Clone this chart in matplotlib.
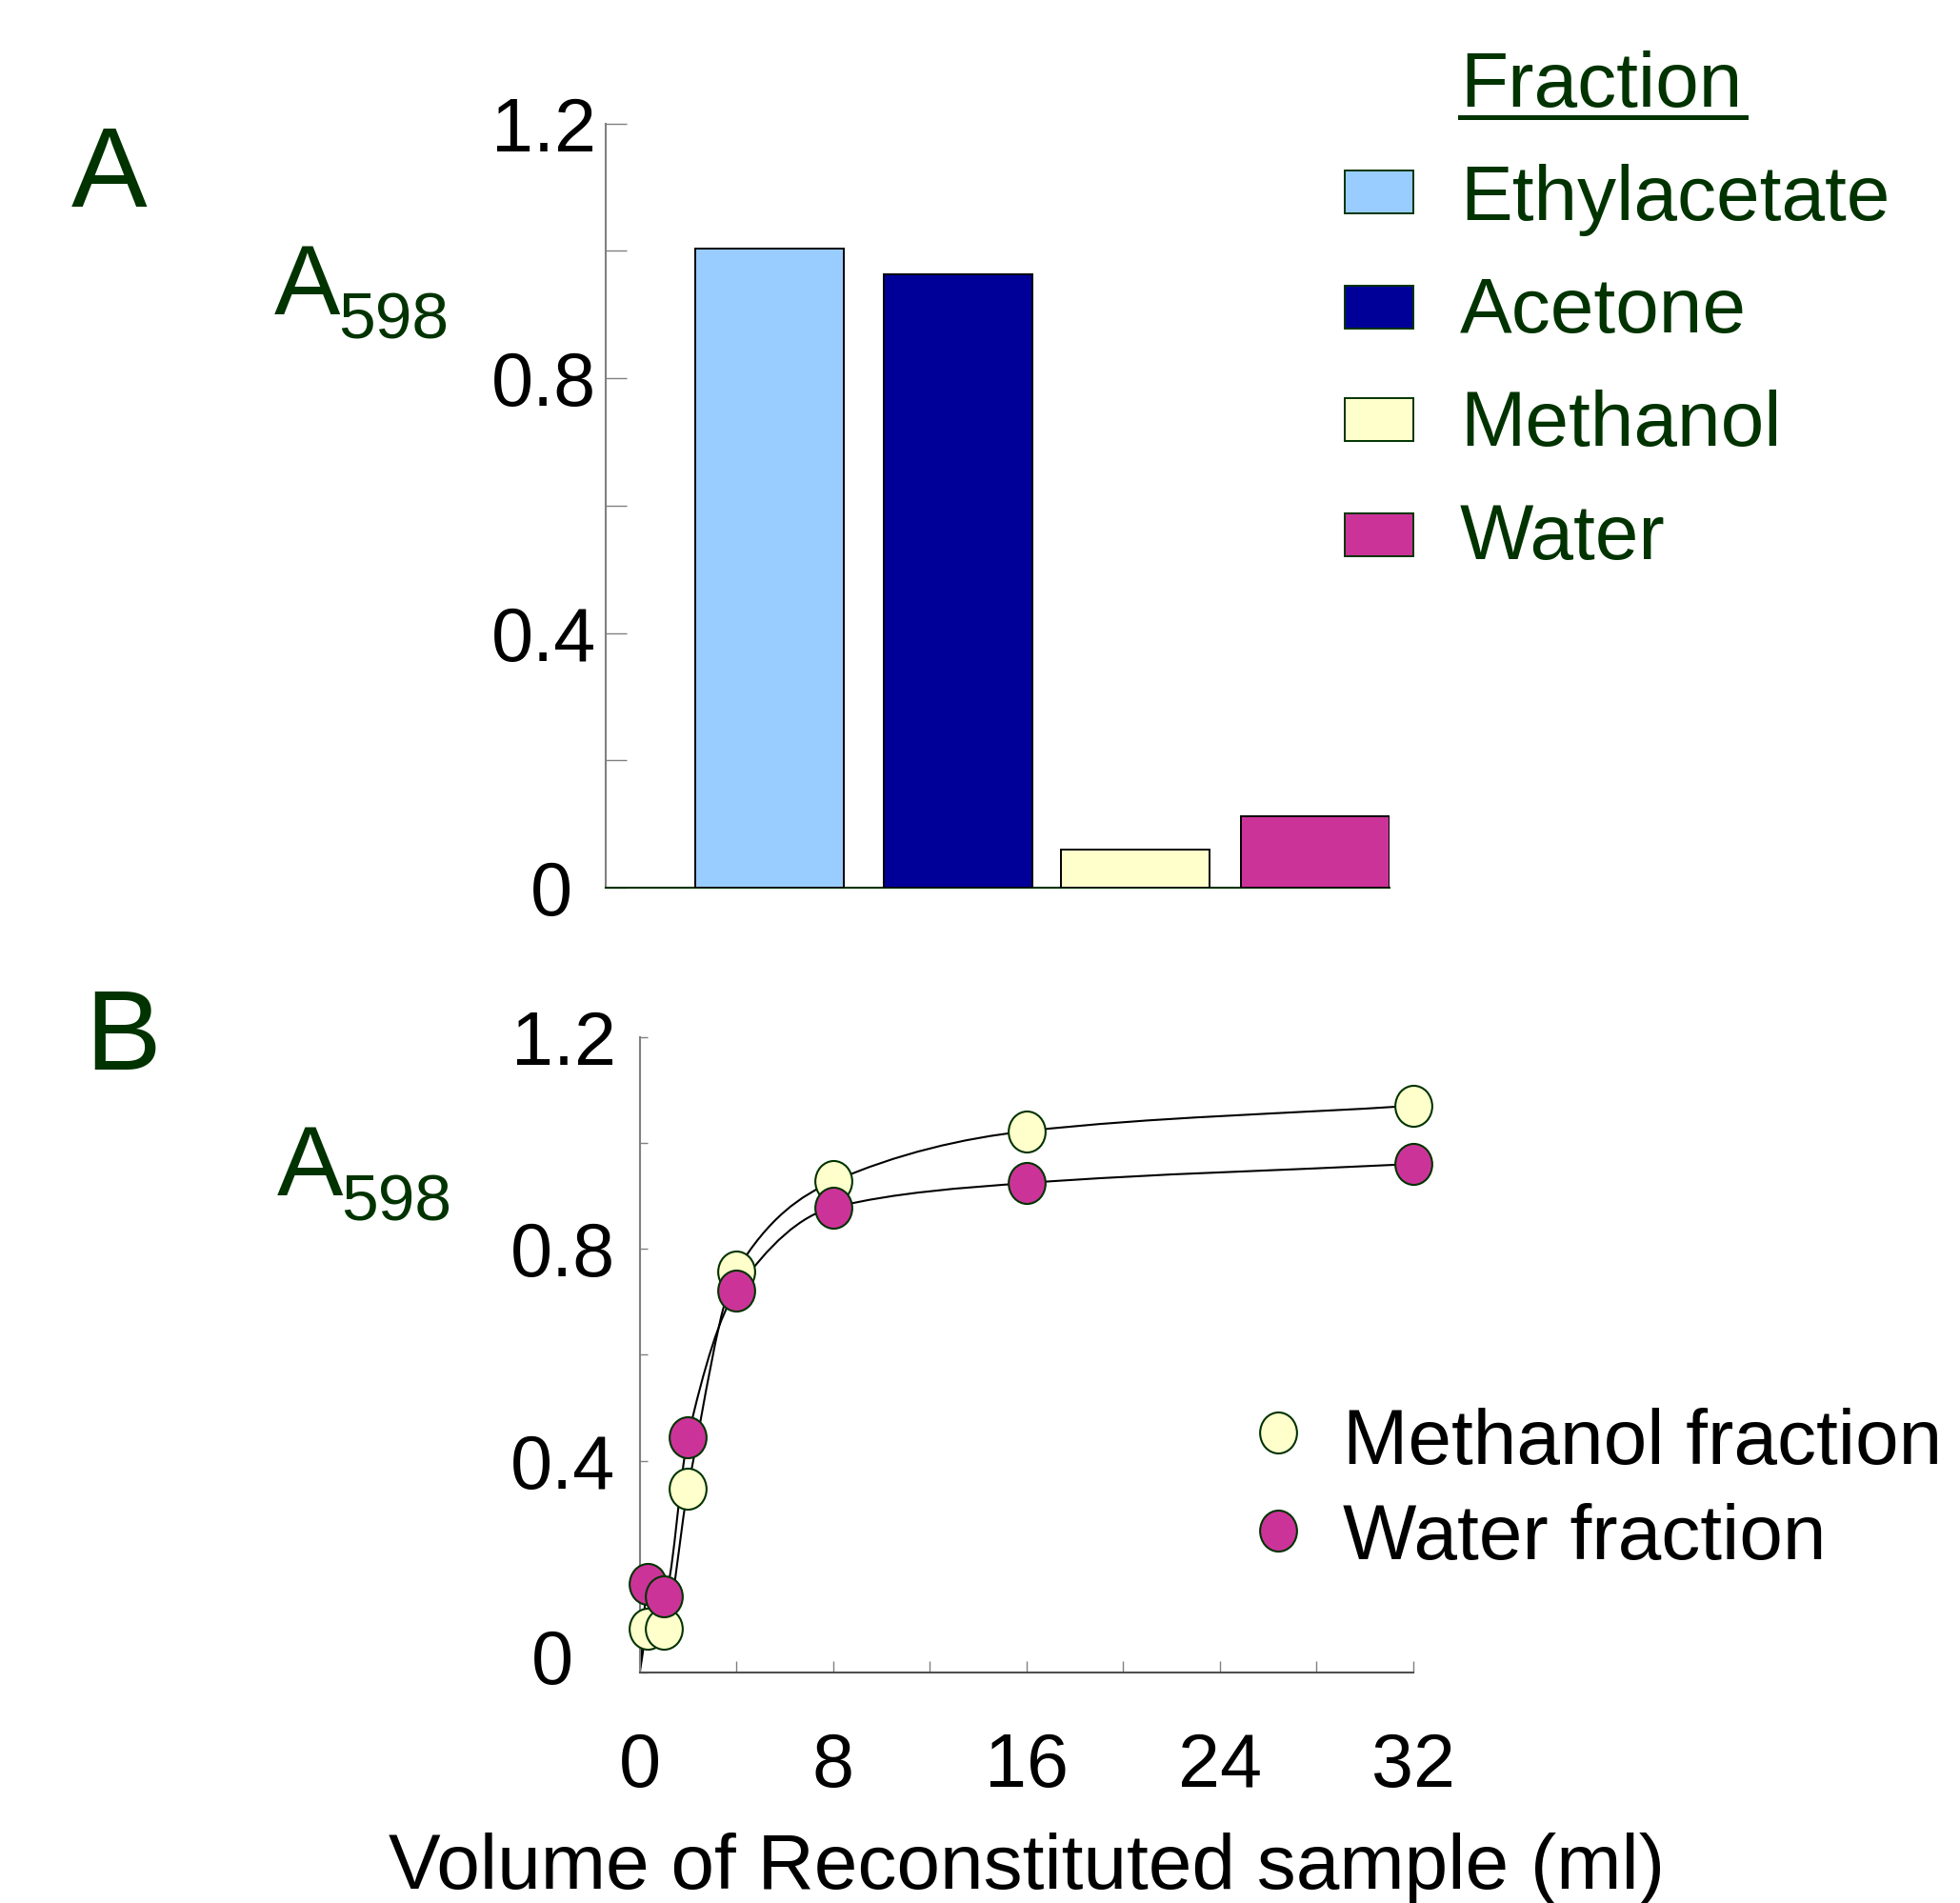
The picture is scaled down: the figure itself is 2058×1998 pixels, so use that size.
import numpy as np
import matplotlib.pyplot as plt
from matplotlib.path import Path
from matplotlib.patches import PathPatch, Rectangle
from matplotlib.lines import Line2D
from matplotlib.transforms import ScaledTranslation

plt.rcParams['font.family'] = ['Liberation Sans', 'DejaVu Sans']

# panel A: absorbance of each fraction
fractions = ['Ethylacetate', 'Acetone', 'Methanol', 'Water']
a598_fraction = [1.004, 0.963, 0.060, 0.112]
fraction_colors = ['#99CCFF', '#000099', '#FFFFCC', '#CC3399']

# panel B: dose response (first point is the blank at the origin)
volume_ml = [0, 0.35, 1, 2, 4, 8, 16, 32]
methanol_a598 = [0, 0.084, 0.084, 0.348, 0.758, 0.927, 1.022, 1.070]
water_a598 = [0, 0.167, 0.144, 0.445, 0.721, 0.878, 0.924, 0.960]

y_ticks = [0, 0.4, 0.8, 1.2]
y_ticklabels = ['0', '0.4', '0.8', '1.2']
x_ticks = [0, 8, 16, 24, 32]

GREEN = '#003300'
GREY = '#808080'
W, H = 2058, 1998


def fx(px):
    return px / W


def fy(py):
    return 1 - py / H


def smooth_path(x, y):
    # monotone cubic through the points, drawn as bezier segments
    x = np.asarray(x, float)
    y = np.asarray(y, float)
    h = np.diff(x)
    d = np.diff(y) / h
    m = np.zeros_like(x)
    m[0], m[-1] = d[0], d[-1]
    for i in range(1, len(x) - 1):
        if d[i - 1] * d[i] <= 0:
            m[i] = 0
        else:
            w1 = 2 * h[i] + h[i - 1]
            w2 = h[i] + 2 * h[i - 1]
            m[i] = (w1 + w2) / (w1 / d[i - 1] + w2 / d[i])
    verts = [(x[0], y[0])]
    codes = [Path.MOVETO]
    for i in range(len(h)):
        verts += [(x[i] + h[i] / 3, y[i] + m[i] * h[i] / 3),
                  (x[i + 1] - h[i] / 3, y[i + 1] - m[i + 1] * h[i] / 3),
                  (x[i + 1], y[i + 1])]
        codes += [Path.CURVE4] * 3
    return Path(verts, codes)


def nudge(label, dx_px, dy_px):
    label.set_transform(label.get_transform() +
                        ScaledTranslation(dx_px / 100, dy_px / 100, fig.dpi_scale_trans))


circ = Path.unit_circle()
ell = Path(circ.vertices * [0.9, 1.0], circ.codes)

fig = plt.figure(figsize=(20.58, 19.98), dpi=100)

# ---- panel A ----
axA = fig.add_axes([fx(635.6), fy(932), fx(1459.3) - fx(635.6), fy(129.7) - fy(932)])
slots = [0, 1.035, 2.009, 3]  # bar slots are not evenly spaced in the original
axA.bar(slots, a598_fraction, width=0.818, color=fraction_colors,
        edgecolor='black', linewidth=1.4, zorder=3)
axA.set_xlim(-0.902, 3.409)
axA.set_ylim(0, 1.2)
for s in ['top', 'right']:
    axA.spines[s].set_visible(False)
axA.spines['left'].set_color(GREY)
axA.spines['left'].set_linewidth(1.5)
axA.spines['bottom'].set_color(GREEN)
axA.spines['bottom'].set_linewidth(1.5)
axA.set_xticks([])
axA.set_yticks(y_ticks)
axA.set_yticklabels(y_ticklabels)
axA.set_yticks([0.2, 0.6, 1.0], minor=True)
axA.tick_params(axis='y', which='both', direction='in', length=15.8, width=1,
                color=GREY, pad=7, labelsize=57)
nudge(axA.get_yticklabels()[0], -25, 0)

# ---- panel B ----
axB = fig.add_axes([fx(671.6), fy(1756.4), fx(1483.8) - fx(671.6), fy(1088.5) - fy(1756.4)])
axB.set_xlim(0, 32)
axB.set_ylim(0, 1.2)
for s in ['top', 'right']:
    axB.spines[s].set_visible(False)
axB.spines['left'].set_color(GREY)
axB.spines['bottom'].set_color('#505050')
axB.spines['left'].set_linewidth(1.5)
axB.spines['bottom'].set_linewidth(1.5)
axB.set_xticks(x_ticks)
axB.set_xticks([4, 12, 20, 28], minor=True)
axB.set_yticks(y_ticks)
axB.set_yticklabels(y_ticklabels)
axB.set_yticks([0.2, 0.6, 1.0], minor=True)
axB.tick_params(axis='x', which='both', direction='in', length=8.4, width=1,
                color=GREY, pad=44, labelsize=57)
axB.tick_params(axis='y', which='both', direction='in', length=5.8, width=1,
                color=GREY, pad=18, labelsize=57)
nudge(axB.get_yticklabels()[0], -45, 17)

for vals, col in [(methanol_a598, '#FFFFCC'), (water_a598, '#CC3399')]:
    axB.add_patch(PathPatch(smooth_path(volume_ml, vals), fill=False,
                            edgecolor='black', lw=1.5, zorder=2))
    axB.plot(volume_ml[1:], vals[1:], ls='none', marker=ell, ms=31,
             mfc=col, mec=GREEN, mew=1.5, clip_on=False, zorder=3)

# ---- labels ----
fig.text(fx(75), fy(217), 'A', size=86, color=GREEN, va='baseline')
fig.text(fx(89), fy(1122.7), 'B', size=86, color=GREEN, va='baseline')
for ax_x, base, sub_base in [(288, 330, 356), (290.7, 1255, 1282)]:
    fig.text(fx(ax_x), fy(base), 'A', size=75, color=GREEN, va='baseline')
    fig.text(fx(ax_x + 67), fy(sub_base), '598', size=50, color=GREEN, va='baseline')

# legend A
fig.text(fx(1533), fy(112), 'Fraction', size=59, color=GREEN, va='baseline')
fig.add_artist(Line2D([fx(1533), fx(1833)], [fy(123), fy(123)], color=GREEN,
                      lw=3.6, transform=fig.transFigure))
for name, col, base, bot in zip(fractions, fraction_colors,
                                [231, 349.5, 468, 587], [224, 345, 463, 584]):
    fig.add_artist(Rectangle((fx(1412), fy(bot)), 72 / W, 45 / H, facecolor=col,
                             edgecolor=GREEN, lw=1.4, transform=fig.transFigure))
    fig.text(fx(1533), fy(base), name, size=59, color=GREEN, va='baseline')

# legend B
for name, col, my, base in [('Methanol fraction', '#FFFFCC', 1504, 1537),
                            ('Water fraction', '#CC3399', 1607, 1637)]:
    fig.add_artist(Line2D([fx(1342)], [fy(my)], ls='none', marker=ell, ms=31,
                          mfc=col, mec=GREEN, mew=1.5, transform=fig.transFigure))
    fig.text(fx(1410), fy(base), name, size=59, color='black', va='baseline')

fig.text(fx(1077.7), fy(1983), 'Volume of Reconstituted sample (ml)', size=59,
         color='black', ha='center', va='baseline')

fig.savefig('out.png', dpi=100)
